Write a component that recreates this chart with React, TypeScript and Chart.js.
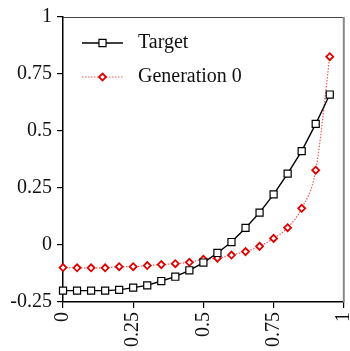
import React, { useEffect, useRef } from 'react';
import { Chart, registerables } from 'chart.js';

Chart.register(...registerables);

const xValues = [0, 0.05, 0.1, 0.15, 0.2, 0.25, 0.3, 0.35, 0.4, 0.45, 0.5, 0.55, 0.6, 0.65, 0.7, 0.75, 0.8, 0.85, 0.9, 0.95];
const targetValues = [-0.2, -0.2, -0.2, -0.2, -0.197, -0.187, -0.177, -0.158, -0.139, -0.111, -0.077, -0.035, 0.013, 0.075, 0.142, 0.222, 0.313, 0.412, 0.531, 0.66];
const gen0Values = [-0.099, -0.1, -0.1, -0.1, -0.095, -0.095, -0.09, -0.086, -0.082, -0.076, -0.063, -0.058, -0.044, -0.029, -0.006, 0.029, 0.076, 0.161, 0.328, 0.826];
const xTicks = [0, 0.25, 0.5, 0.75, 1];
const yTicks = [-0.25, 0, 0.25, 0.5, 0.75, 1];
const seriesLabels = ['Target', 'Generation 0'];

const FONT = "'Liberation Serif', 'Times New Roman', serif";
const FONT_SIZE = 20;

const framePlugin = {
  id: 'frame',
  afterDatasetsDraw(chart: any) {
    const { ctx, chartArea } = chart;
    ctx.save();
    ctx.strokeStyle = '#444';
    ctx.lineWidth = 1;
    ctx.beginPath();
    ctx.moveTo(chartArea.left, chartArea.top + 0.5);
    ctx.lineTo(chartArea.right, chartArea.top + 0.5);
    ctx.stroke();
    ctx.strokeStyle = '#888';
    ctx.lineWidth = 2;
    ctx.beginPath();
    ctx.moveTo(chartArea.right, chartArea.top);
    ctx.lineTo(chartArea.right, chartArea.bottom);
    ctx.stroke();
    ctx.restore();
  },
};

function drawMarker(ctx: CanvasRenderingContext2D, style: string, x: number, y: number, r: number) {
  ctx.beginPath();
  if (style === 'rect') {
    const s = Math.SQRT1_2 * r;
    ctx.rect(x - s, y - s, 2 * s, 2 * s);
  } else {
    ctx.moveTo(x, y - r);
    ctx.lineTo(x + r, y);
    ctx.lineTo(x, y + r);
    ctx.lineTo(x - r, y);
    ctx.closePath();
  }
  ctx.fill();
  ctx.stroke();
}

const legendPlugin = {
  id: 'customLegend',
  afterDraw(chart: any) {
    const { ctx, chartArea } = chart;
    const rows = [26, 60];
    ctx.save();
    chart.data.datasets.forEach((ds: any, i: number) => {
      const y = chartArea.top + rows[i];
      const x0 = chartArea.left + 19;
      const x1 = chartArea.left + 60;
      ctx.strokeStyle = ds.borderColor;
      ctx.lineWidth = ds.borderWidth;
      ctx.setLineDash(ds.borderDash || []);
      ctx.beginPath();
      ctx.moveTo(x0, y);
      ctx.lineTo(x1, y);
      ctx.stroke();
      ctx.setLineDash([]);
      ctx.strokeStyle = ds.pointBorderColor;
      ctx.fillStyle = ds.pointBackgroundColor;
      ctx.lineWidth = ds.pointBorderWidth;
      drawMarker(ctx, ds.pointStyle, (x0 + x1) / 2, y, ds.pointRadius);
      ctx.fillStyle = '#111';
      ctx.font = `${FONT_SIZE}px ${FONT}`;
      ctx.textBaseline = 'middle';
      ctx.textAlign = 'left';
      ctx.fillText(ds.label, chartArea.left + 75, y);
    });
    ctx.restore();
  },
};

export default function App() {
  const ref = useRef<HTMLCanvasElement>(null);
  useEffect(() => {
    document.body.style.margin = '0';
    const font = { family: FONT, size: FONT_SIZE };
    const chart = new Chart(ref.current as HTMLCanvasElement, {
      type: 'line',
      data: {
        datasets: [
          {
            label: seriesLabels[0],
            data: xValues.map((x, i) => ({ x, y: targetValues[i] })),
            borderColor: '#000',
            borderWidth: 1.4,
            pointStyle: 'rect',
            pointRadius: 5,
            pointBorderWidth: 1.2,
            pointBackgroundColor: '#fff',
            pointBorderColor: '#000',
            tension: 0,
            clip: false,
          } as any,
          {
            label: seriesLabels[1],
            data: xValues.map((x, i) => ({ x, y: gen0Values[i] })),
            borderColor: 'rgba(235,60,60,0.85)',
            borderWidth: 1.2,
            borderDash: [1.5, 1.5],
            pointStyle: 'rectRot',
            pointRadius: 3.5,
            pointBorderWidth: 1.8,
            pointBackgroundColor: '#fff',
            pointBorderColor: '#e00000',
            cubicInterpolationMode: 'monotone',
            clip: false,
          } as any,
        ],
      },
      options: {
        animation: false,
        responsive: false,
        maintainAspectRatio: false,
        layout: { padding: { top: 17, right: 2, left: 0, bottom: 0 } },
        plugins: { legend: { display: false }, tooltip: { enabled: false } },
        scales: {
          x: {
            type: 'linear',
            min: 0,
            max: 1,
            afterBuildTicks: (s: any) => {
              s.ticks = xTicks.map((v) => ({ value: v }));
            },
            afterFit: (s: any) => {
              s.height = 49;
              s.paddingLeft = 0;
              s.paddingRight = 0;
            },
            grid: { drawOnChartArea: false, tickLength: 6, color: '#000', lineWidth: 1.2 },
            border: { color: '#000', width: 1.5 },
            ticks: {
              font,
              color: '#111',
              minRotation: 90,
              maxRotation: 90,
              padding: 4,
              autoSkip: false,
              callback: (v: any) => String(v),
            },
          },
          y: {
            type: 'linear',
            min: -0.25,
            max: 1,
            afterBuildTicks: (s: any) => {
              s.ticks = yTicks.map((v) => ({ value: v }));
            },
            afterFit: (s: any) => {
              s.width = 63;
              s.paddingTop = 0;
              s.paddingBottom = 0;
            },
            grid: { drawOnChartArea: false, tickLength: 6, color: '#000', lineWidth: 1.2 },
            border: { color: '#000', width: 1.5 },
            ticks: {
              font,
              color: '#111',
              padding: 5,
              autoSkip: false,
              callback: (v: any) => String(v),
            },
          },
        },
      },
      plugins: [framePlugin, legendPlugin],
    });
    return () => chart.destroy();
  }, []);
  return (
    <div style={{ position: 'absolute', left: 0, top: 0, width: 350, height: 351 }}>
      <canvas ref={ref} width={350} height={351} style={{ width: 350, height: 351, display: 'block' }} />
    </div>
  );
}
